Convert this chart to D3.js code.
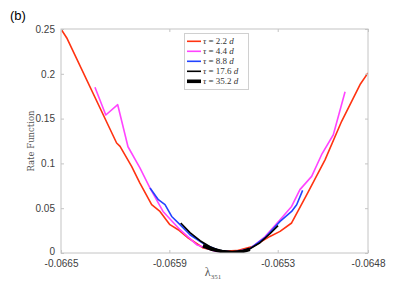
<!DOCTYPE html>
<html><head><meta charset="utf-8">
<script src="https://cdn.jsdelivr.net/npm/d3@7"></script>
<style>body{margin:0;background:#fff}svg{display:block}</style>
</head><body>
<script>
const xTicks = [-0.0665, -0.0659, -0.0653, -0.0648];
const yTicks = [0, 0.05, 0.1, 0.15, 0.2, 0.25];
const seriesNames = ["2.2", "4.4", "8.8", "17.6", "35.2"];
const seriesColors = ["#ff3311", "#ff44ff", "#2244ff", "#000000", "#000000"];
const seriesWidths = [1.6, 1.6, 1.6, 1.6, 3.6];

const red = [[-0.06650,0.250],[-0.066468,0.240],[-0.066192,0.1228],[-0.066173,0.119],[-0.066109,0.0967],[-0.066063,0.0781],[-0.065998,0.0539],[-0.065952,0.0464],[-0.065897,0.0316],[-0.065851,0.0260],[-0.065795,0.0167],[-0.065712,0.0056],[-0.065620,0.0018],[-0.065527,0.0026],[-0.065435,0.0074],[-0.065343,0.0185],[-0.065287,0.0241],[-0.065223,0.0335],[-0.065139,0.0651],[-0.065038,0.104],[-0.064946,0.147],[-0.064844,0.188],[-0.0648,0.201]];
const magenta = [[-0.066312,0.185],[-0.066252,0.154],[-0.066186,0.1655],[-0.066129,0.1186],[-0.066063,0.0949],[-0.066007,0.0725],[-0.065935,0.0464],[-0.065841,0.026],[-0.065749,0.0093],[-0.065647,0.002],[-0.065564,0.0003],[-0.065454,0.0048],[-0.065371,0.018],[-0.065287,0.0372],[-0.065223,0.052],[-0.065177,0.0707],[-0.065112,0.0855],[-0.065057,0.1097],[-0.064992,0.132],[-0.064927,0.180]];
const blue = [[-0.066007,0.0725],[-0.065961,0.0595],[-0.065924,0.0539],[-0.065887,0.0408],[-0.065841,0.0316],[-0.065786,0.0204],[-0.065703,0.0093],[-0.065620,0.0026],[-0.065537,0.0009],[-0.065454,0.0048],[-0.065371,0.0171],[-0.065287,0.0353],[-0.065223,0.0464],[-0.065195,0.0539],[-0.065162,0.0699]];
const black1 = [[-0.065837,0.0335],[-0.065786,0.0227],[-0.065730,0.0137],[-0.065675,0.0070],[-0.065620,0.0026],[-0.065564,0.0006],[-0.065509,0.0015],[-0.065454,0.0048],[-0.065398,0.0115],[-0.065343,0.0215],[-0.065298,0.0305]];
const black2 = [[-0.065714,0.0081],[-0.065664,0.0042],[-0.065609,0.0017],[-0.065553,0.0006],[-0.065498,0.0015],[-0.065454,0.0042]];
const series = [red, magenta, blue, black1, black2];

const W = 415, H = 294;
const m = {l: 61, r: 47, t: 29, b: 41};
const svg = d3.select("body").append("svg").attr("width", W).attr("height", H);
const x = d3.scaleLinear().domain([-0.0665, -0.0648]).range([m.l, W - m.r]);
const y = d3.scaleLinear().domain([0, 0.25]).range([H - m.b, m.t]);
const axisCol = "#c4c4c4", txtCol = "#404040";

const clip = svg.append("clipPath").attr("id","c").append("rect")
  .attr("x", m.l).attr("y", m.t).attr("width", W-m.l-m.r).attr("height", H-m.t-m.b);

const line = d3.line().x(d => x(d[0])).y(d => y(d[1]));
const g = svg.append("g").attr("clip-path","url(#c)");
series.forEach((s,i) => {
  g.append("path").datum(s).attr("d", line).attr("fill","none")
   .attr("stroke", seriesColors[i]).attr("stroke-width", seriesWidths[i])
   .attr("stroke-linejoin","round");
});

function styleAxis(sel, labels) {
  sel.select(".domain").remove();
  sel.selectAll("line").attr("stroke", axisCol);
  sel.selectAll("text").attr("fill", txtCol).style("font-family","'Liberation Sans', Arial, sans-serif").style("font-size","10px");
  if (!labels) sel.selectAll("text").remove();
}
const fmtX = d => d3.format(".4f")(d).replace("−","-");
const fmtY = d => d === 0 ? "0" : String(d);
const xb = svg.append("g").attr("transform",`translate(0,${H-m.b})`)
  .call(d3.axisBottom(x).tickValues(xTicks).tickSizeInner(-3).tickSizeOuter(0).tickPadding(7).tickFormat(fmtX));
styleAxis(xb, true);
const xt = svg.append("g").attr("transform",`translate(0,${m.t})`)
  .call(d3.axisTop(x).tickValues(xTicks).tickSizeInner(-3).tickSizeOuter(0));
styleAxis(xt, false);
const yl = svg.append("g").attr("transform",`translate(${m.l},0)`)
  .call(d3.axisLeft(y).tickValues(yTicks).tickSizeInner(-3).tickSizeOuter(0).tickPadding(6).tickFormat(fmtY));
styleAxis(yl, true);
yl.selectAll("text").filter(d => d === 0).attr("dy", "0.1em");
const yr = svg.append("g").attr("transform",`translate(${W-m.r},0)`)
  .call(d3.axisRight(y).tickValues(yTicks).tickSizeInner(-3).tickSizeOuter(0));
styleAxis(yr, false);

svg.append("rect").attr("x", m.l).attr("y", m.t).attr("width", W-m.l-m.r).attr("height", H-m.t-m.b)
  .attr("fill","none").attr("stroke", axisCol).attr("stroke-width",1);

// labels
svg.append("text").attr("x", 10).attr("y", 20).text("(b)")
  .style("font-family","'Liberation Sans', Arial, sans-serif").style("font-size","13px").attr("fill","#000");
svg.append("text").attr("transform","translate(34,141) rotate(-90)").attr("text-anchor","middle")
  .style("font-family","'DejaVu Serif', 'Liberation Serif', serif").style("font-size","8.5px").attr("fill","#555")
  .text("Rate Function");
const xlab = svg.append("text").attr("x", 213).attr("y", 276).attr("text-anchor","middle")
  .style("font-family","'Liberation Serif', serif").style("font-size","12px").attr("fill","#555");
xlab.append("tspan").text("λ");
xlab.append("tspan").attr("dy", 3).style("font-size","7px").text("351");

// legend
const lg = svg.append("g");
lg.append("rect").attr("x",184.5).attr("y",33.5).attr("width",64).attr("height",56)
  .attr("fill","#fff").attr("stroke","#d0d0d0").attr("stroke-width",1);
seriesNames.forEach((n,i) => {
  const yy = 41.3 + i*10;
  lg.append("line").attr("x1",187).attr("x2",201).attr("y1",yy).attr("y2",yy)
    .attr("stroke", seriesColors[i]).attr("stroke-width", seriesWidths[i]);
  const t = lg.append("text").attr("x",203).attr("y",yy+3)
    .style("font-family","'Liberation Serif', 'DejaVu Serif', serif").style("font-size","9px").attr("fill","#333");
  t.append("tspan").style("font-style","italic").text("τ");
  t.append("tspan").text(" = " + n + " ");
  t.append("tspan").style("font-style","italic").text("d");
});
</script>
</body></html>
